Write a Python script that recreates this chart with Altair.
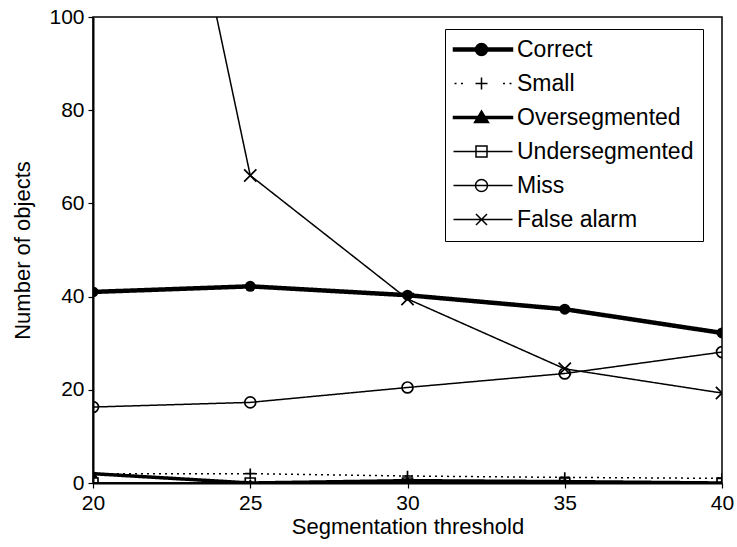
import altair as alt
import pandas as pd

thresholds = [20, 25, 30, 35, 40]
series_names = ["Correct", "Small", "Oversegmented", "Undersegmented", "Miss", "False alarm"]
correct = [41.0, 42.2, 40.3, 37.3, 32.2]
small = [2.0, 2.0, 1.5, 1.2, 1.0]
overseg = [2.0, 0.0, 0.5, 0.3, 0.0]
underseg = [0.0, 0.0, 0.0, 0.0, 0.0]
miss = [16.3, 17.3, 20.5, 23.5, 28.1]
false_alarm = [225.0, 66.0, 39.5, 24.5, 19.3]

values = [correct, small, overseg, underseg, miss, false_alarm]
rows = []
for name, vals in zip(series_names, values):
    for t, v in zip(thresholds, vals):
        rows.append({"threshold": t, "count": v, "series": name})
df = pd.DataFrame(rows)

FONT = "Liberation Sans"

x_enc = alt.X("threshold:Q", scale=alt.Scale(domain=[20, 40], nice=False),
              axis=alt.Axis(values=thresholds, title="Segmentation threshold", labelFlush=False))
y_enc = alt.Y("count:Q", scale=alt.Scale(domain=[0, 100], nice=False),
              axis=alt.Axis(values=[0, 20, 40, 60, 80, 100], title="Number of objects"))

styles = {
    "Correct": dict(width=4.5, dash=[1, 0], shape="circle", filled=True, size=120),
    "Small": dict(width=1.5, dash=[2, 4], shape="M0,-1V1M-1,0H1", filled=False, size=110),
    "Oversegmented": dict(width=3.5, dash=[1, 0], shape="triangle-up", filled=True, size=100),
    "Undersegmented": dict(width=1.5, dash=[1, 0], shape="square", filled=False, size=100),
    "Miss": dict(width=1.5, dash=[1, 0], shape="circle", filled=False, size=120),
    "False alarm": dict(width=1.5, dash=[1, 0], shape="M-1,-1L1,1M-1,1L1,-1", filled=False, size=150),
}

layers = []
for name in series_names:
    st = styles[name]
    base = alt.Chart(df).transform_filter(alt.datum.series == name)
    layers.append(base.mark_line(color="black", strokeWidth=st["width"],
                                 strokeDash=st["dash"], clip=True).encode(x=x_enc, y=y_enc))
    layers.append(base.mark_point(shape=st["shape"], color="black", filled=st["filled"],
                                  strokeWidth=1.7, size=st["size"], opacity=1,
                                  clip=True).encode(x=x_enc, y=y_enc))


def circ(cx, r):
    k = 0.5523 * r
    return (f"M{cx - r},0C{cx - r},{-k} {cx - k},{-r} {cx},{-r}"
            f"C{cx + k},{-r} {cx + r},{-k} {cx + r},0"
            f"C{cx + r},{k} {cx + k},{r} {cx},{r}"
            f"C{cx - k},{r} {cx - r},{k} {cx - r},0Z")


# legend symbols: line segment + marker as custom symbol paths (1 unit = 5 px)
L0, L1, MC = -2.4, 9.4, 3.2
legend_paths = [
    f"M{L0},-0.3H{L1}V0.3H{L0}Z " + circ(MC, 1.2),
    f"M{L0 + 0.2},0H{L0 + 0.6}M{L0 + 1.5},0H{L0 + 1.9}M{MC},-1.2V1.2M{MC - 1.2},0H{MC + 1.2}"
    f"M{L1 - 1.9},0H{L1 - 1.5}M{L1 - 0.6},0H{L1 - 0.2}",
    f"M{L0},-0.22H{L1}V0.22H{L0}Z M{MC},-1.3L{MC + 1.4},1L{MC - 1.4},1Z",
    f"M{L0},0H{MC - 1.1}M{MC + 1.1},0H{L1} M{MC - 1.1},-1.1H{MC + 1.1}V1.1H{MC - 1.1}Z M{MC - 1.1},0H{MC + 1.1}",
    f"M{L0},0H{MC - 1.2}M{MC + 1.2},0H{L1} " + circ(MC, 1.2) + f" M{MC - 1.2},0H{MC + 1.2}",
    f"M{L0},0H{L1} M{MC - 1.1},-1.1L{MC + 1.1},1.1M{MC - 1.1},1.1L{MC + 1.1},-1.1",
]
legend_fills = ["black", "transparent", "black", "transparent", "transparent", "transparent"]
legend_strokes = ["black"] * 6


def leg():
    return alt.Legend(title=None, orient="none", legendX=352, legendY=12,
                      symbolOpacity=1, symbolSize=100, symbolStrokeWidth=1.5,
                      labelOffset=40, labelFontSize=23, labelFont=FONT,
                      labelColor="black", rowPadding=10,
                      padding=9, strokeColor="black", fillColor="white",
                      labelLimit=400)


legend_layer = alt.Chart(df).transform_filter(alt.datum.count < -1000).mark_point(
    filled=False).encode(
    x=x_enc, y=y_enc,
    shape=alt.Shape("series:N", scale=alt.Scale(domain=series_names, range=legend_paths), legend=leg()),
    fill=alt.Fill("series:N", scale=alt.Scale(domain=series_names, range=legend_fills), legend=leg()),
    stroke=alt.Stroke("series:N", scale=alt.Scale(domain=series_names, range=legend_strokes), legend=leg()),
)

chart = alt.layer(*layers, legend_layer).properties(
    width=629, height=466,
    autosize=alt.AutoSizeParams(type="none"),
    padding={"left": 93, "top": 17, "right": 15, "bottom": 64},
).configure_view(
    stroke="black", strokeWidth=1.5
).configure_axis(
    labelFont=FONT, titleFont=FONT, labelFontSize=21, titleFontSize=22,
    labelColor="black", titleColor="black", titleFontWeight="normal",
    domainColor="black", domainWidth=2, tickColor="black", tickSize=5, tickWidth=1.2,
    grid=False, labelPadding=4,
).configure_axisX(titlePadding=3).configure_axisY(titlePadding=14)

chart.save("out.html", embed_options={"renderer": "svg", "actions": False})
